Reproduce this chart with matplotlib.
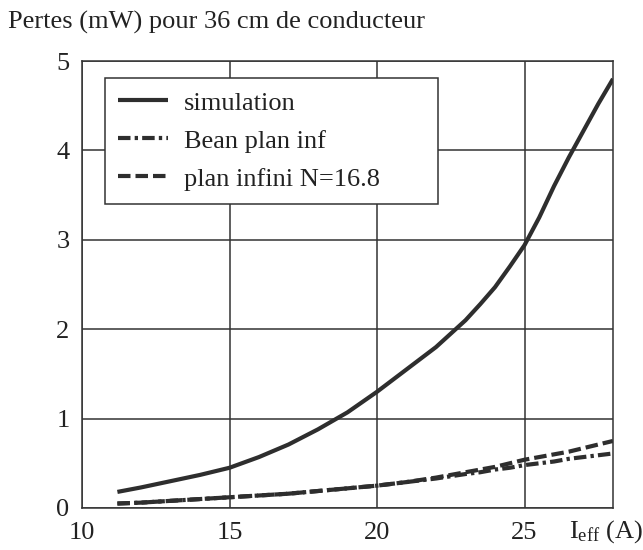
import matplotlib
matplotlib.use('Agg')
import matplotlib.pyplot as plt

plt.rcParams['font.family'] = ['Liberation Serif', 'DejaVu Serif']
plt.rcParams['mathtext.fontset'] = 'custom'
plt.rcParams['mathtext.rm'] = 'Liberation Serif'
plt.rcParams['mathtext.it'] = 'Liberation Serif'

# courant efficace (A)
i_eff = [11.2, 12, 13, 14, 15, 16, 17, 18, 19, 20, 21, 22, 23, 23.5, 24, 24.5,
         25, 25.5, 26, 26.5, 27, 27.5, 28]
# pertes (mW)
simulation = [0.18, 0.23, 0.30, 0.37, 0.45, 0.57, 0.71, 0.88, 1.07, 1.30,
              1.55, 1.80, 2.10, 2.28, 2.47, 2.70, 2.94, 3.25, 3.60, 3.92,
              4.22, 4.52, 4.80]
bean_plan_inf = [0.05, 0.06, 0.08, 0.10, 0.12, 0.14, 0.16, 0.19, 0.22, 0.25,
                 0.29, 0.33, 0.38, 0.40, 0.43, 0.45, 0.48, 0.50, 0.52, 0.55,
                 0.57, 0.59, 0.61]
plan_infini = [0.05, 0.06, 0.08, 0.10, 0.12, 0.14, 0.16, 0.19, 0.22, 0.25,
               0.29, 0.34, 0.40, 0.43, 0.46, 0.50, 0.54, 0.57, 0.60, 0.63,
               0.67, 0.71, 0.75]

xticks = [10, 15, 20, 25]
yticks = [0, 1, 2, 3, 4, 5]

col = '#2e2e2e'
fig = plt.figure(figsize=(6.43, 5.5), dpi=100)
ax = fig.add_axes([82/643, 1-508/550, 531/643, 447/550])

ax.plot(i_eff, simulation, color=col, lw=3, label='simulation', solid_capstyle='butt')
ax.plot(i_eff, bean_plan_inf, color=col, lw=3, dashes=(3, 1, 0.8, 1), label='Bean plan inf')
ax.plot(i_eff, plan_infini, color=col, lw=3, dashes=(3, 1.2), label='plan infini N=16.8')

ax.set_xlim(10, 28)
ax.set_ylim(0, 5)
ax.set_xticks(xticks)
ax.set_yticks(yticks)
ax.grid(True, color='#333333', lw=1.1)
ax.tick_params(length=0, labelsize=19, colors='#222222')
ax.tick_params(axis='y', pad=9)
ax.tick_params(axis='x', pad=10)
for s in ax.spines.values():
    s.set_linewidth(1.1)
    s.set_color('#333333')

leg = ax.legend(loc='upper left', bbox_to_anchor=(0.0433, 0.685, 0.627, 0.277),
                mode='expand', borderaxespad=0, fontsize=19, handlelength=1.9,
                handletextpad=0.6, labelspacing=0.55, borderpad=0.5,
                fancybox=False, framealpha=1)
leg.get_frame().set_edgecolor('#333333')
leg.get_frame().set_linewidth(1.1)
for t in leg.get_texts():
    t.set_color('#222222')

ax.text(26.5, -0.066, r'I$_{\rm eff}$ (A)', transform=ax.get_xaxis_transform(),
        fontsize=19, va='baseline', ha='left', color='#222222')
fig.text(8/643, 1-29/550, 'Pertes (mW) pour 36 cm de conducteur', fontsize=19,
         va='baseline', ha='left', color='#222222')

fig.savefig('out.png', dpi=100)
